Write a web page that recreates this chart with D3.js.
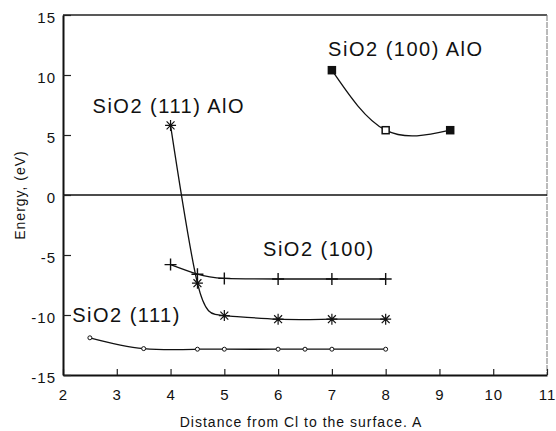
<!DOCTYPE html>
<html><head><meta charset="utf-8">
<script src="https://cdn.jsdelivr.net/npm/d3@7"></script>
<style>
html,body{margin:0;padding:0;background:#fff;}
svg{display:block;}
text{font-family:"Liberation Sans",Arial,Helvetica,sans-serif;fill:#111;}
</style></head>
<body>
<script>
// Data
const xTicks = [2,3,4,5,6,7,8,9,10,11];
const yTicks = [-15,-10,-5,0,5,10,15];

const si111X = [2.5,3.5,4.5,5,6,6.5,7,8];
const si111Y = [-11.9,-12.8,-12.85,-12.85,-12.85,-12.85,-12.85,-12.85];

const si100X = [4,4.5,5,6,7,8];
const si100Y = [-5.8,-6.6,-6.95,-7.0,-7.0,-7.0];

const si111AlOX = [4,4.5,5,6,7,8];
const si111AlOY = [5.8,-7.35,-10.05,-10.35,-10.35,-10.35];

const si100AlOX = [7,8,9.2];
const si100AlOY = [10.4,5.4,5.4];

const labels = [
  {text:"SiO2 (100) AlO", x:6.93, y:11.6},
  {text:"SiO2 (111) AlO", x:2.55, y:6.8},
  {text:"SiO2 (100)", x:5.72, y:-5.1},
  {text:"SiO2 (111)", x:2.17, y:-10.6}
];

const W = 556, H = 431;
const svg = d3.select("body").append("svg").attr("width",W).attr("height",H);
const x = d3.scaleLinear().domain([2,11]).range([63,547]);
const y = d3.scaleLinear().domain([-15,15]).range([375,15]);

// frame: top and right
svg.append("line").attr("x1",x(2)).attr("x2",x(11)).attr("y1",y(15)).attr("y2",y(15))
  .attr("stroke","#222").attr("stroke-width",1.5);
svg.append("line").attr("x1",x(11)).attr("x2",x(11)).attr("y1",y(15)).attr("y2",y(-15))
  .attr("stroke","#777").attr("stroke-width",1).attr("stroke-dasharray","6,1");
// zero line
svg.append("line").attr("x1",x(2)).attr("x2",x(11)).attr("y1",y(0)).attr("y2",y(0))
  .attr("stroke","#111").attr("stroke-width",1.5);

const fmt = d => String(d);

// axes
const xAxis = d3.axisBottom(x).tickValues(xTicks).tickSize(-6).tickSizeOuter(0).tickPadding(14).tickFormat(fmt);
const gx = svg.append("g").attr("transform",`translate(0,${y(-15)})`).call(xAxis);
gx.select(".domain").attr("stroke","#111").attr("stroke-width",2);
gx.selectAll(".tick line").attr("stroke","#222").attr("stroke-width",1.2);
gx.selectAll(".tick text").attr("font-size",15).attr("letter-spacing","1px")
  .attr("font-family","Liberation Sans, Arial, sans-serif").attr("fill","#111");

const yAxis = d3.axisLeft(y).tickValues(yTicks).tickSize(-8).tickSizeOuter(0).tickPadding(7).tickFormat(fmt);
const gy = svg.append("g").attr("transform",`translate(${x(2)},0)`).call(yAxis);
gy.select(".domain").attr("stroke","#111").attr("stroke-width",2);
gy.selectAll(".tick line").attr("stroke","#222").attr("stroke-width",1.2);
gy.selectAll(".tick text").attr("font-size",15).attr("letter-spacing","1px").attr("dy","0.5em")
  .attr("font-family","Liberation Sans, Arial, sans-serif").attr("fill","#111");

// axis titles
svg.append("text").attr("x",(x(2)+x(11))/2 - 4).attr("y",427).attr("text-anchor","middle")
  .attr("font-size",14).attr("letter-spacing","1px").text("Distance from Cl to the surface. A");
svg.append("text").attr("transform",`translate(25,${y(0)}) rotate(-90)`).attr("text-anchor","middle")
  .attr("font-size",14).attr("letter-spacing","1px").text("Energy, (eV)");

const line = d3.line().x(d=>x(d[0])).y(d=>y(d[1])).curve(d3.curveNatural);
function series(xs, ys){ return xs.map((v,i)=>[v, ys[i]]); }

const s111 = series(si111X, si111Y);
const s100 = series(si100X, si100Y);
const s111A = series(si111AlOX, si111AlOY);
const s100A = series(si100AlOX, si100AlOY);

[s111, s100, s111A, s100A].forEach(s=>{
  svg.append("path").attr("d", line(s)).attr("fill","none").attr("stroke","#111").attr("stroke-width",1.3);
});

// markers
svg.selectAll(".c").data(s111).enter().append("circle")
  .attr("cx",d=>x(d[0])).attr("cy",d=>y(d[1])).attr("r",2)
  .attr("fill","#fff").attr("stroke","#111").attr("stroke-width",1);

svg.selectAll(".p").data(s100).enter().append("path")
  .attr("d",d=>{const cx=x(d[0]), cy=y(d[1]); return `M${cx-6},${cy}H${cx+6}M${cx},${cy-6}V${cy+6}`;})
  .attr("stroke","#111").attr("stroke-width",1.4).attr("fill","none");

svg.selectAll(".s").data(s111A).enter().append("path")
  .attr("d",d=>{const cx=x(d[0]), cy=y(d[1]); const r=5.5, q=r*0.72;
    return `M${cx-r},${cy}H${cx+r}M${cx},${cy-r}V${cy+r}M${cx-q},${cy-q}L${cx+q},${cy+q}M${cx-q},${cy+q}L${cx+q},${cy-q}`;})
  .attr("stroke","#111").attr("stroke-width",1.2).attr("fill","none");

svg.selectAll(".q").data(s100A).enter().append("rect")
  .attr("x",d=>x(d[0])-3.5).attr("y",d=>y(d[1])-3.5).attr("width",7).attr("height",7)
  .attr("fill",(d,i)=> i===1 ? "#fff" : "#111").attr("stroke","#111").attr("stroke-width",1.5);

// labels
svg.selectAll(".lbl").data(labels).enter().append("text")
  .attr("x",d=>x(d.x)).attr("y",d=>y(d.y)).attr("font-size",20).attr("letter-spacing","1.5px")
  .text(d=>d.text);
</script>
</body></html>
